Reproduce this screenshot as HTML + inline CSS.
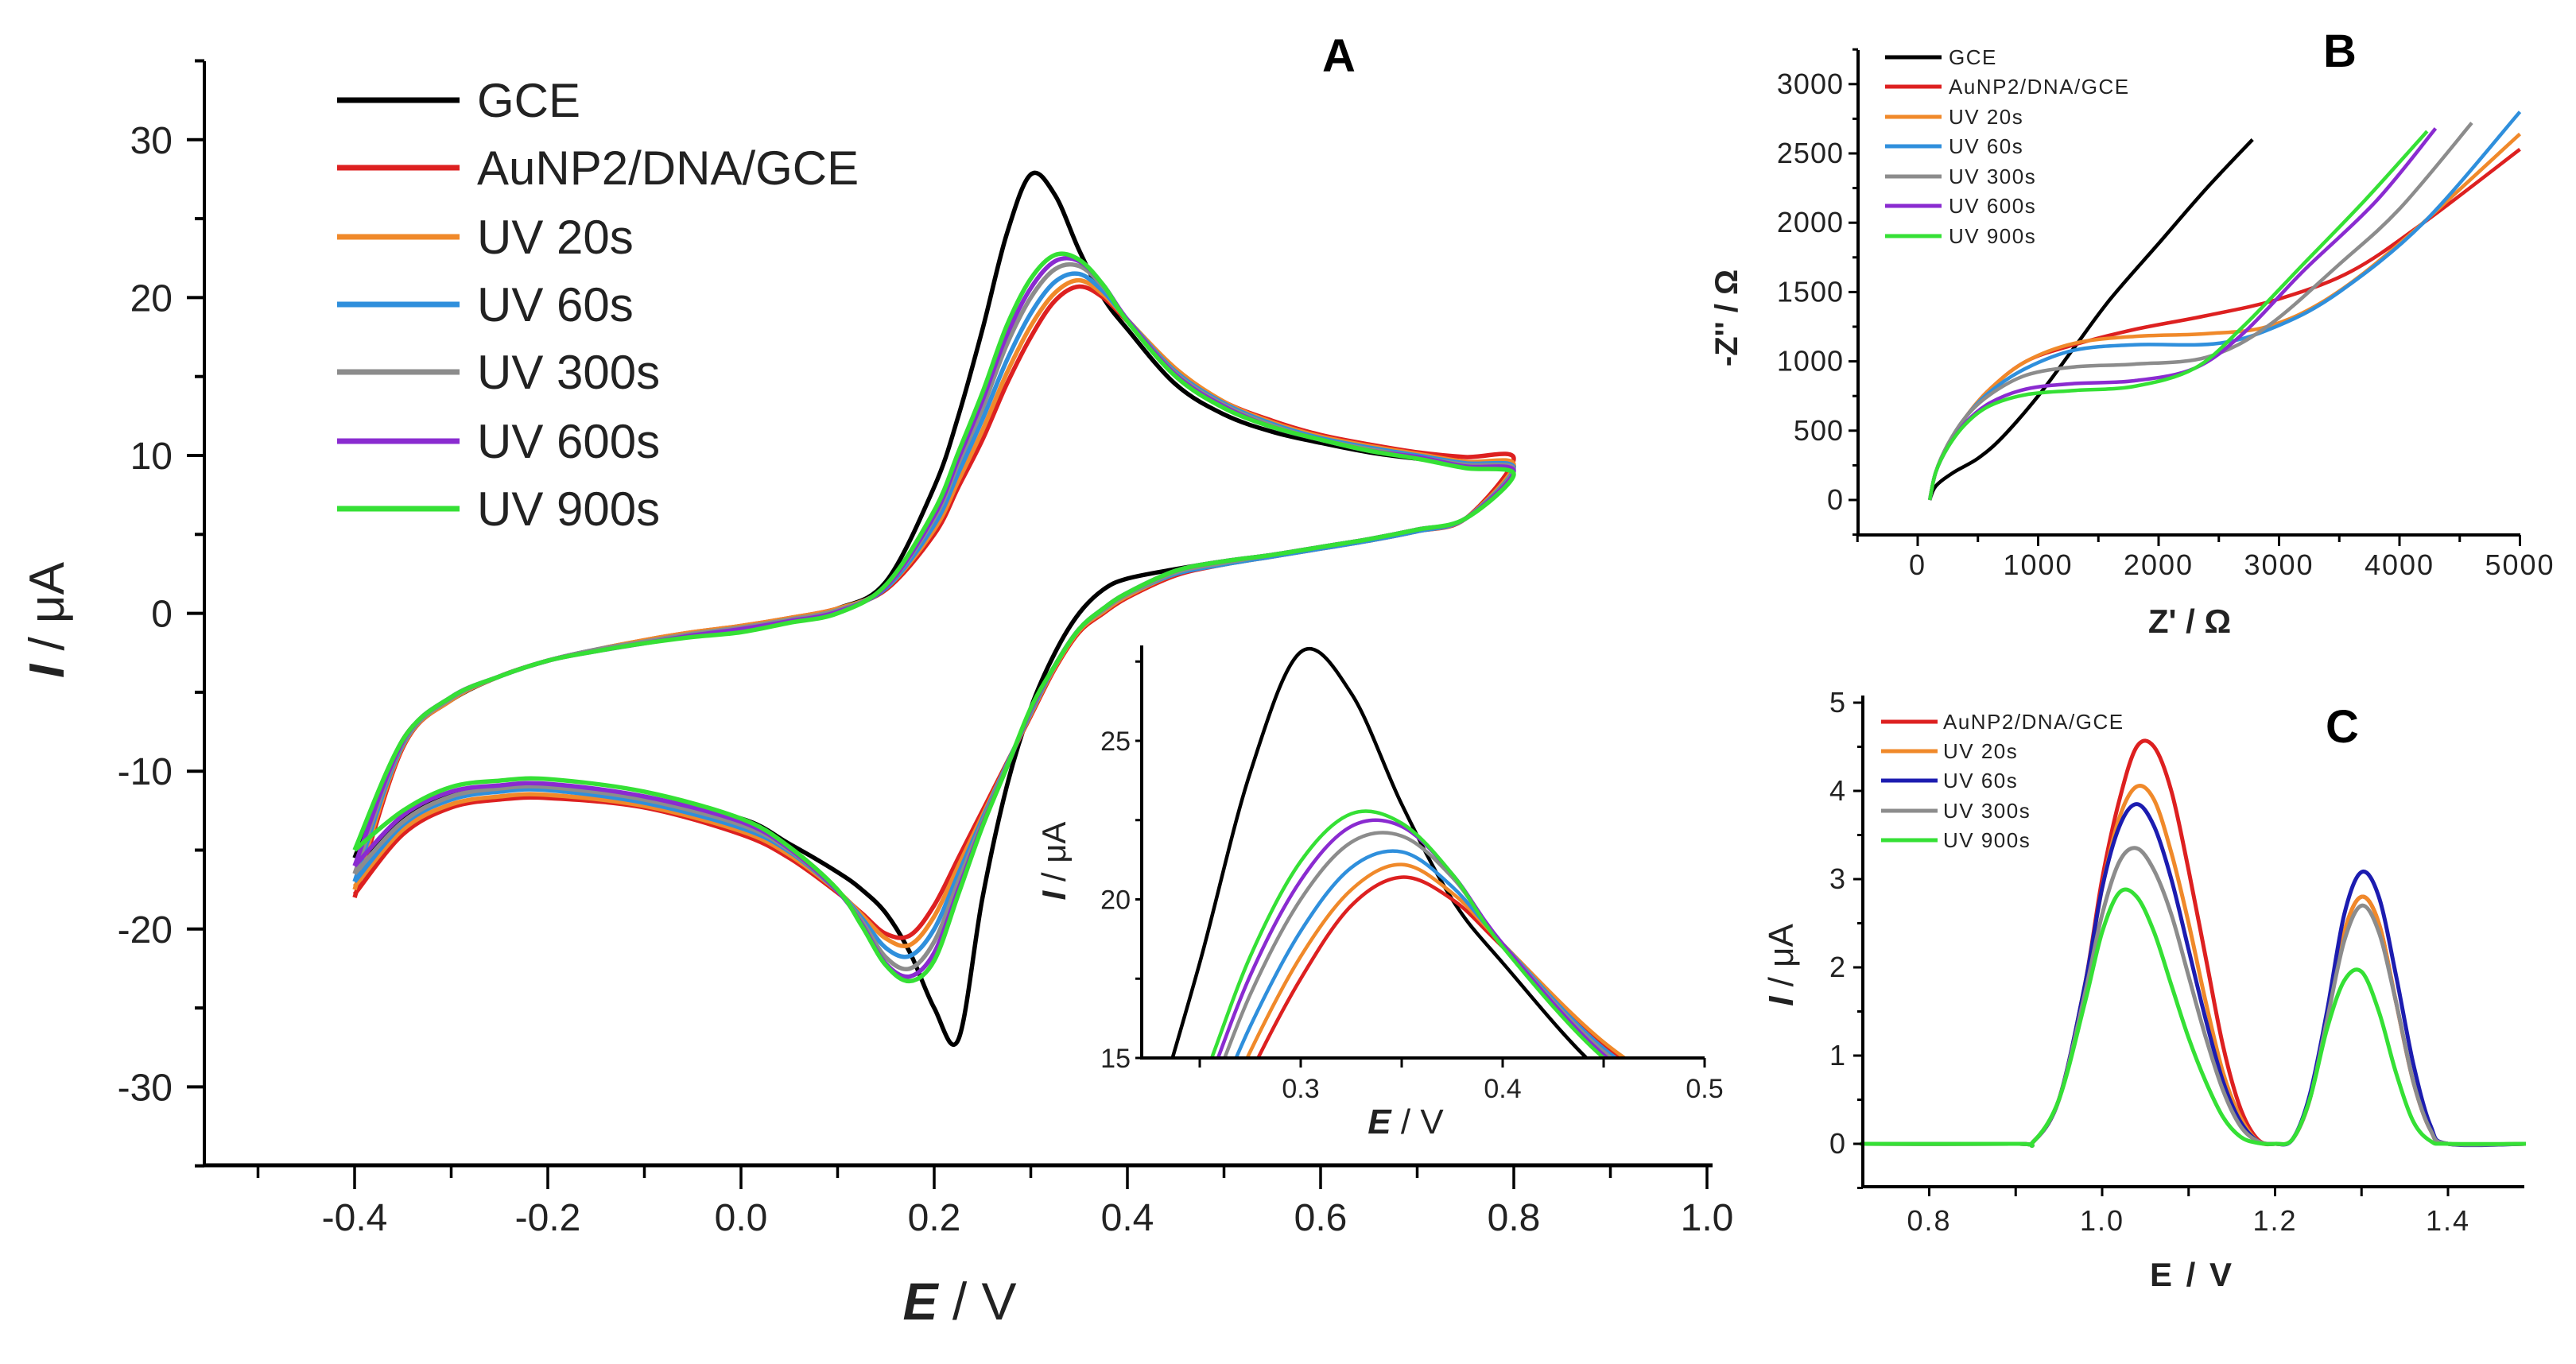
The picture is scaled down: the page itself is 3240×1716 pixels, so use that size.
<!DOCTYPE html>
<html><head><meta charset="utf-8">
<style>
html,body{margin:0;padding:0;background:#fff;overflow:hidden;width:3240px;height:1716px;}
svg{display:block;font-family:"Liberation Sans",Arial,sans-serif;}
</style></head>
<body>
<svg id="fig" width="3240" height="1716" viewBox="0 0 3240 1716" xmlns="http://www.w3.org/2000/svg">
<rect width="3240" height="1716" fill="#fff"/>
<defs>
<clipPath id="clipInset"><rect x="1436" y="812" width="708" height="519"/></clipPath>
</defs>
<g id="panelA"></g>
<g id="panelInset"></g>
<g id="panelB"></g>
<g id="panelC"></g>
</svg>
<script>
// ---------- Panel A data (CV) ----------
const cvSeriesNames = ["GCE","AuNP2/DNA/GCE","UV 20s","UV 60s","UV 300s","UV 600s","UV 900s"];
const cvColors = ["#000000","#dd2020","#f0892a","#2f8fdc","#8c8c8c","#8a2bd0","#35e035"];
const cvFwdE = [-0.4,-0.35,-0.3,-0.25,-0.2,-0.15,-0.1,-0.05,0,0.05,0.1,0.15,0.2,0.225,0.25,0.275,0.3,0.325,0.35,0.375,0.4,0.45,0.5,0.55,0.6,0.65,0.7,0.75,0.8];
const cvRevE = [0.8,0.75,0.7,0.65,0.6,0.55,0.5,0.45,0.4,0.375,0.35,0.325,0.3,0.275,0.25,0.225,0.2,0.175,0.15,0.125,0.1,0.05,0,-0.1,-0.2,-0.25,-0.3,-0.35,-0.4];
const cvFwdGCE    = [-15.5,-8,-5.5,-4,-3,-2.3,-1.8,-1.3,-0.9,-0.4,0.3,2,8,12.5,18,24,27.8,26.5,23,20,18,14.5,12.6,11.5,10.8,10.2,9.8,9.5,9.3];
const cvFwdAuNP   = [-18,-8.5,-5.5,-4,-3,-2.3,-1.7,-1.2,-0.8,-0.3,0.3,1.5,5,8,11,14.5,17.5,19.8,20.7,20,18.5,15.4,13.4,12.2,11.3,10.7,10.2,9.9,9.8];
const cvFwdUV20   = [-17.5,-8.4,-5.5,-4,-3,-2.3,-1.7,-1.2,-0.8,-0.3,0.3,1.6,5.3,8.4,11.6,15.2,18.2,20.3,21.1,20.2,18.6,15.5,13.4,12.1,11.2,10.6,10.1,9.6,9.4];
const cvFwdUV60   = [-17,-8.3,-5.4,-4,-3,-2.3,-1.8,-1.3,-0.9,-0.4,0.2,1.6,5.6,8.9,12.3,16,19,21,21.5,20.4,18.6,15.3,13.3,12,11.1,10.5,10,9.5,9.2];
const cvFwdUV300  = [-16.5,-8.2,-5.4,-4,-3,-2.3,-1.8,-1.3,-0.9,-0.4,0.2,1.7,6,9.5,13,17,20,21.8,22,20.7,18.6,15.2,13.2,11.9,11,10.4,9.9,9.4,9.1];
const cvFwdUV600  = [-16,-8.1,-5.3,-4,-3,-2.4,-1.9,-1.4,-1,-0.5,0.1,1.7,6.2,9.8,13.5,17.6,20.6,22.3,22.3,20.8,18.6,15.1,13.1,11.8,11,10.3,9.9,9.3,9];
const cvFwdUV900  = [-15,-8,-5.3,-4,-3,-2.4,-1.9,-1.5,-1.2,-0.6,0,1.8,6.5,10.2,14,18.2,21.2,22.7,22.4,20.8,18.5,15,13,11.8,11,10.3,9.8,9.2,8.8];
const cvRevGCE    = [8.5,6,5.3,4.7,4.2,3.7,3.3,2.8,2.2,1.5,0,-2.5,-6,-11,-18,-27,-25,-21.5,-19,-17.5,-16.4,-14.6,-13,-11.8,-11,-11,-11.5,-13,-16];
const cvRevAuNP   = [8.3,6,5.2,4.6,4.1,3.6,3.1,2.4,1,0,-1.2,-3.5,-6.5,-9.5,-12.5,-15.5,-18.5,-20.4,-20.3,-19,-17.7,-15.5,-14,-12.3,-11.7,-11.8,-12.3,-14,-17.8];
const cvRevUV20   = [8.3,6,5.2,4.6,4.1,3.6,3.1,2.5,1.1,0.1,-1.1,-3.4,-6.4,-9.6,-12.8,-16,-19.2,-21,-20.6,-19.1,-17.6,-15.3,-13.8,-12.2,-11.5,-11.6,-12.1,-13.7,-17.3];
const cvRevUV60   = [8.3,6,5.2,4.6,4.1,3.6,3.1,2.5,1.2,0.2,-1,-3.3,-6.3,-9.6,-13,-16.5,-20,-21.7,-21.2,-19.3,-17.6,-15.1,-13.6,-12,-11.2,-11.3,-11.8,-13.4,-17];
const cvRevUV300  = [8.2,6,5.3,4.7,4.2,3.7,3.2,2.6,1.2,0.2,-1,-3.3,-6.2,-9.7,-13.2,-17,-20.8,-22.5,-21.8,-19.5,-17.6,-15,-13.4,-11.8,-11,-11.1,-11.6,-13.2,-16.5];
const cvRevUV600  = [8.2,6,5.3,4.7,4.2,3.7,3.3,2.7,1.3,0.3,-1,-3.3,-6.1,-9.8,-13.4,-17.5,-21.5,-23,-22.2,-19.7,-17.6,-14.9,-13.2,-11.6,-10.8,-10.9,-11.3,-12.8,-16];
const cvRevUV900  = [8.2,6,5.3,4.7,4.2,3.7,3.3,2.7,1.3,0.3,-1,-3.3,-6,-9.8,-13.5,-17.8,-22,-23.3,-22.3,-19.8,-17.5,-14.8,-13,-11.3,-10.5,-10.6,-11,-12.5,-15];
const cvXTicks = [-0.4,-0.2,0.0,0.2,0.4,0.6,0.8,1.0];
const cvXTickLabels = ["-0.4","-0.2","0.0","0.2","0.4","0.6","0.8","1.0"];
const cvYTicks = [-30,-20,-10,0,10,20,30];
const insetXTicks = [0.3,0.4,0.5];
const insetYTicks = [15,20,25];

// ---------- Panel B data (Nyquist) ----------
const nyNames = ["GCE","AuNP2/DNA/GCE","UV 20s","UV 60s","UV 300s","UV 600s","UV 900s"];
const nyColors = ["#000000","#dd2020","#f0892a","#2f8fdc","#8c8c8c","#8a2bd0","#35e035"];
const nyReGCE  = [100,150,300,500,700,1000,1300,1600,2000,2400,2780];
const nyImGCE  = [0,100,200,300,450,750,1100,1450,1850,2250,2600];
const nyReAuNP = [100,150,250,400,600,900,1300,1800,2400,3000,3600,4200,5000];
const nyImAuNP = [0,200,400,600,800,1000,1120,1230,1330,1450,1650,2000,2530];
const nyReUV20 = [100,150,250,400,600,900,1300,1800,2400,2900,3400,4000,5000];
const nyImUV20 = [0,200,400,600,800,1000,1130,1180,1200,1250,1450,1850,2640];
const nyReUV60 = [100,150,250,400,600,900,1300,1800,2500,3000,3500,4200,5000];
const nyImUV60 = [0,200,400,600,780,950,1080,1120,1130,1260,1500,2000,2800];
const nyReUV300 = [100,150,250,400,600,900,1300,1800,2400,2900,3500,4000,4600];
const nyImUV300 = [0,200,400,600,760,900,960,980,1030,1250,1700,2100,2720];
const nyReUV600 = [100,150,250,400,600,900,1300,1800,2300,2700,3200,3800,4300];
const nyImUV600 = [0,200,380,560,700,800,840,860,950,1200,1650,2150,2680];
const nyReUV900 = [100,150,250,400,600,900,1300,1800,2300,2700,3200,3700,4230];
const nyImUV900 = [0,200,380,550,680,760,790,820,950,1250,1700,2150,2660];
const nyXTicks = [0,1000,2000,3000,4000,5000];
const nyYTicks = [0,500,1000,1500,2000,2500,3000];

// ---------- Panel C data (DPV) ----------
const dpNames = ["AuNP2/DNA/GCE","UV 20s","UV 60s","UV 300s","UV 900s"];
const dpColors = ["#dd2020","#f0892a","#1c1cb0","#8c8c8c","#35e035"];
const dpE = [0.72,0.9,0.92,0.95,0.98,1.0,1.02,1.04,1.06,1.08,1.1,1.12,1.14,1.16,1.18,1.2,1.22,1.24,1.26,1.28,1.3,1.32,1.34,1.36,1.38,1.4,1.49];
const dpAuNP  = [0,0,0.02,0.5,1.8,3.0,3.9,4.5,4.5,4.0,3.1,2.1,1.1,0.4,0.05,0,0.05,0.5,1.4,2.4,2.8,2.5,1.6,0.7,0.15,0,0];
const dpUV20  = [0,0,0.02,0.5,1.8,2.9,3.7,4.05,3.9,3.3,2.5,1.6,0.8,0.3,0.03,0,0.05,0.5,1.4,2.4,2.8,2.5,1.6,0.7,0.15,0,0];
const dpUV60  = [0,0,0.02,0.5,1.8,2.9,3.6,3.85,3.6,3.0,2.2,1.4,0.7,0.25,0.03,0,0.05,0.55,1.5,2.6,3.08,2.8,1.9,0.9,0.2,0,0];
const dpUV300 = [0,0,0.02,0.5,1.7,2.6,3.2,3.35,3.1,2.6,1.9,1.2,0.6,0.2,0.03,0,0.05,0.5,1.4,2.3,2.7,2.4,1.6,0.7,0.15,0,0];
const dpUV900 = [0,0,0.02,0.5,1.6,2.4,2.85,2.8,2.4,1.8,1.2,0.7,0.3,0.08,0.01,0,0.05,0.5,1.3,1.85,1.95,1.5,0.8,0.25,0.03,0,0];
const dpXTicks = [0.8,1.0,1.2,1.4];
const dpXTickLabels = ["0.8","1.0","1.2","1.4"];
const dpYTicks = [0,1,2,3,4,5];

const NS = "http://www.w3.org/2000/svg";
function mk(parent, tag, attrs, text){
  const e = document.createElementNS(NS, tag);
  for (const k in attrs) e.setAttribute(k, attrs[k]);
  if (text !== undefined) e.textContent = text;
  parent.appendChild(e);
  return e;
}
function smoothPath(pts){
  let d = "M" + pts[0][0].toFixed(1) + "," + pts[0][1].toFixed(1);
  for (let i = 0; i < pts.length - 1; i++){
    const p0 = pts[Math.max(0,i-1)], p1 = pts[i], p2 = pts[i+1], p3 = pts[Math.min(pts.length-1,i+2)];
    const c1x = p1[0] + (p2[0]-p0[0])/6, c1y = p1[1] + (p2[1]-p0[1])/6;
    const c2x = p2[0] - (p3[0]-p1[0])/6, c2y = p2[1] - (p3[1]-p1[1])/6;
    d += " C" + c1x.toFixed(1) + "," + c1y.toFixed(1) + " " + c2x.toFixed(1) + "," + c2y.toFixed(1) + " " + p2[0].toFixed(1) + "," + p2[1].toFixed(1);
  }
  return d;
}

// ========== Panel A ==========
const A = document.getElementById("panelA");
const axL = 257, axR = 2154, axT = 77, axB = 1466;
const sxA = v => 446 + (v + 0.4) * 1215;
const syA = v => 771.6 - v * 19.86;
let el;
el = mk(A, "line", {x1:axL, y1:axT, x2:axL, y2:axB+2, stroke:"#000", "stroke-width":4});


el = mk(A, "line", {x1:axL-2, y1:axB, x2:axR, y2:axB, stroke:"#000", "stroke-width":5});


for (let k = -5; k <= 10; k++){
  const v = k / 10;
  const major = (k % 2 === 0);
  el = mk(A, "line", {x1:sxA(v), y1:axB, x2:sxA(v), y2:axB + (major?30:16), stroke:"#000", "stroke-width":3.5});
  
  
}
cvXTicks.forEach((v,i) => {
  el = mk(A, "text", {x:sxA(v), y:axB+82, "font-size":48, "text-anchor":"middle", fill:"#222"}, cvXTickLabels[i]);
  
  
});
for (let v = -35; v <= 35; v += 5){
  const major = (v % 10 === 0);
  el = mk(A, "line", {x1:axL - (major?22:12), y1:syA(v), x2:axL, y2:syA(v), stroke:"#000", "stroke-width":4});
  
  
}
cvYTicks.forEach(v => {
  el = mk(A, "text", {x:axL-40, y:syA(v)+17, "font-size":48, "text-anchor":"end", fill:"#222"}, String(v));
  
  
});
el = mk(A, "text", {x:0, y:0, "font-size":62, "text-anchor":"middle", fill:"#222", transform:"translate(80,780) rotate(-90)"});
el.innerHTML = '<tspan font-weight="bold" font-style="italic">I</tspan> / μA';


el = mk(A, "text", {x:1207, y:1660, "font-size":66, "text-anchor":"middle", fill:"#222"});
el.innerHTML = '<tspan font-weight="bold" font-style="italic">E</tspan> / V';


el = mk(A, "text", {x:1684, y:90, "font-size":58, "font-weight":"bold", "text-anchor":"middle", fill:"#000"}, "A");



const cvFwd = [cvFwdGCE,cvFwdAuNP,cvFwdUV20,cvFwdUV60,cvFwdUV300,cvFwdUV600,cvFwdUV900];
const cvRev = [cvRevGCE,cvRevAuNP,cvRevUV20,cvRevUV60,cvRevUV300,cvRevUV600,cvRevUV900];
const drawOrder = [0,1,2,3,4,5,6];
drawOrder.forEach(s => {
  const pts = cvFwdE.map((e,i)=>[sxA(e), syA(cvFwd[s][i])]).concat(cvRevE.slice(1).map((e,i)=>[sxA(e), syA(cvRev[s][i+1])]));
  el = mk(A, "path", {d:smoothPath(pts), fill:"none", stroke:cvColors[s], "stroke-width":5.5, "stroke-linejoin":"round"});
  
  
});
const legRowsA = [126,211,298,383,468,555,640];
cvSeriesNames.forEach((n,i) => {
  el = mk(A, "line", {x1:424, y1:legRowsA[i], x2:578, y2:legRowsA[i], stroke:cvColors[i], "stroke-width":7});
  
  
  el = mk(A, "text", {x:600, y:legRowsA[i]+21, "font-size":60, fill:"#222"}, n);
  
  
});

// ========== Inset ==========
const I = document.getElementById("panelInset");
const iL = 1436, iB = 1331, iT = 812, iR = 2144;
const sxI = v => 1636 + (v - 0.3) * 2540;
const syI = v => 1331 - (v - 15) * 39.9;
const ig = mk(I, "g", {"clip-path":"url(#clipInset)"});
drawOrder.forEach(s => {
  const pts = [];
  cvFwdE.forEach((e,i) => { if (e >= 0.22 && e <= 0.52) pts.push([sxI(e), syI(cvFwd[s][i])]); });
  el = mk(ig, "path", {d:smoothPath(pts), fill:"none", stroke:cvColors[s], "stroke-width":4.5});
  
  
});
el = mk(I, "line", {x1:iL, y1:iT, x2:iL, y2:iB+2, stroke:"#000", "stroke-width":4});


el = mk(I, "line", {x1:iL-2, y1:iB, x2:iR, y2:iB, stroke:"#000", "stroke-width":4});


[0.25,0.3,0.35,0.4,0.45,0.5].forEach(v => {
  el = mk(I, "line", {x1:sxI(v), y1:iB, x2:sxI(v), y2:iB+12, stroke:"#000", "stroke-width":3});
  
  
});
insetXTicks.forEach(v => {
  el = mk(I, "text", {x:sxI(v), y:iB+50, "font-size":34, "text-anchor":"middle", fill:"#222"}, v.toFixed(1));
  
  
});
[15,17.5,20,22.5,25,27.5].forEach(v => {
  el = mk(I, "line", {x1:iL-8, y1:syI(v), x2:iL, y2:syI(v), stroke:"#000", "stroke-width":3});
  
  
});
insetYTicks.forEach(v => {
  el = mk(I, "text", {x:iL-14, y:syI(v)+12, "font-size":34, "text-anchor":"end", fill:"#222"}, String(v));
  
  
});
el = mk(I, "text", {x:0, y:0, "font-size":42, "text-anchor":"middle", fill:"#222", transform:"translate(1340,1083) rotate(-90)"});
el.innerHTML = '<tspan font-weight="bold" font-style="italic">I</tspan> / μA';


el = mk(I, "text", {x:1768, y:1426, "font-size":44, "text-anchor":"middle", fill:"#222"});
el.innerHTML = '<tspan font-weight="bold" font-style="italic">E</tspan> / V';



// ========== Panel B ==========
const B = document.getElementById("panelB");
const bL = 2337, bR = 3170, bT = 63, bB = 673;
const sxB = v => 2412 + v * 0.1515;
const syB = v => 629 - v * 0.1744;
const nyRe = [nyReGCE,nyReAuNP,nyReUV20,nyReUV60,nyReUV300,nyReUV600,nyReUV900];
const nyIm = [nyImGCE,nyImAuNP,nyImUV20,nyImUV60,nyImUV300,nyImUV600,nyImUV900];
[0,1,2,3,4,5,6].forEach(s => {
  const pts = nyRe[s].map((r,i)=>[sxB(r), syB(nyIm[s][i])]);
  el = mk(B, "path", {d:smoothPath(pts), fill:"none", stroke:nyColors[s], "stroke-width":4.5});
  
  
});
el = mk(B, "line", {x1:bL, y1:bT, x2:bL, y2:bB+2, stroke:"#000", "stroke-width":4});


el = mk(B, "line", {x1:bL-2, y1:bB, x2:bR, y2:bB, stroke:"#000", "stroke-width":4});


for (let v = -500; v <= 5000; v += 500){
  const major = (v % 1000 === 0);
  el = mk(B, "line", {x1:sxB(v), y1:bB, x2:sxB(v), y2:bB + (major?14:9), stroke:"#000", "stroke-width":3});
  
  
}
nyXTicks.forEach(v => {
  el = mk(B, "text", {x:sxB(v), y:bB+50, "font-size":36, "text-anchor":"middle", fill:"#222", "letter-spacing":"2"}, String(v));
  
  
});
for (let v = -250; v <= 3250; v += 250){
  const major = (v % 500 === 0);
  el = mk(B, "line", {x1:bL - (major?12:7), y1:syB(v), x2:bL, y2:syB(v), stroke:"#000", "stroke-width":3});
  
  
}
nyYTicks.forEach(v => {
  el = mk(B, "text", {x:bL-18, y:syB(v)+12, "font-size":36, "text-anchor":"end", fill:"#222", "letter-spacing":"1"}, String(v));
  
  
});
el = mk(B, "text", {x:0, y:0, "font-size":40, "font-weight":"bold", "text-anchor":"middle", fill:"#222", transform:"translate(2185,400) rotate(-90)"}, "-Z'' / Ω");


el = mk(B, "text", {x:2754, y:796, "font-size":42, "font-weight":"bold", "text-anchor":"middle", fill:"#222"}, "Z' / Ω");


el = mk(B, "text", {x:2943, y:84, "font-size":58, "font-weight":"bold", "text-anchor":"middle", fill:"#000"}, "B");


const legRowsB = [72,109,147,184,222,259,297];
nyNames.forEach((n,i) => {
  el = mk(B, "line", {x1:2371, y1:legRowsB[i], x2:2442, y2:legRowsB[i], stroke:nyColors[i], "stroke-width":5});
  
  
  el = mk(B, "text", {x:2451, y:legRowsB[i]+9, "font-size":26, fill:"#222", "letter-spacing":"1.5"}, n);
  
  
});

// ========== Panel C ==========
const C = document.getElementById("panelC");
const cL = 2343, cR = 3175, cT = 875, cB = 1493;
const sxC = v => 2644 + (v - 1.0) * 1087.5;
const syC = v => 1439 - v * 111;
const dpSeries = [dpAuNP,dpUV20,dpUV60,dpUV300,dpUV900];
[0,1,2,3,4].forEach(s => {
  const pts = dpE.map((e,i)=>[sxC(e), syC(dpSeries[s][i])]);
  el = mk(C, "path", {d:smoothPath(pts), fill:"none", stroke:dpColors[s], "stroke-width":5});
  
  
});
el = mk(C, "line", {x1:cL, y1:cT, x2:cL, y2:cB+2, stroke:"#000", "stroke-width":4});


el = mk(C, "line", {x1:cL-2, y1:cB, x2:cR, y2:cB, stroke:"#000", "stroke-width":4});


for (let k = 8; k <= 14; k++){
  const v = k / 10;
  el = mk(C, "line", {x1:sxC(v), y1:cB, x2:sxC(v), y2:cB+12, stroke:"#000", "stroke-width":3});
  
  
}
dpXTicks.forEach((v,i) => {
  el = mk(C, "text", {x:sxC(v), y:cB+55, "font-size":36, "text-anchor":"middle", fill:"#222", "letter-spacing":"2"}, dpXTickLabels[i]);
  
  
});
for (let k = -1; k <= 10; k++){
  const v = k / 2;
  const major = (k % 2 === 0);
  el = mk(C, "line", {x1:cL - (major?12:7), y1:syC(v), x2:cL, y2:syC(v), stroke:"#000", "stroke-width":3});
  
  
}
dpYTicks.forEach(v => {
  el = mk(C, "text", {x:cL-22, y:syC(v)+12, "font-size":36, "text-anchor":"end", fill:"#222"}, String(v));
  
  
});
el = mk(C, "text", {x:0, y:0, "font-size":44, "text-anchor":"middle", fill:"#222", transform:"translate(2255,1214) rotate(-90)"});
el.innerHTML = '<tspan font-weight="bold" font-style="italic">I</tspan> / μA';


el = mk(C, "text", {x:2757, y:1618, "font-size":42, "font-weight":"bold", "text-anchor":"middle", fill:"#222", "letter-spacing":"3"}, "E / V");


el = mk(C, "text", {x:2946, y:934, "font-size":58, "font-weight":"bold", "text-anchor":"middle", fill:"#000"}, "C");


const legRowsC = [908,945,982,1020,1057];
dpNames.forEach((n,i) => {
  el = mk(C, "line", {x1:2366, y1:legRowsC[i], x2:2437, y2:legRowsC[i], stroke:dpColors[i], "stroke-width":5});
  
  
  el = mk(C, "text", {x:2444, y:legRowsC[i]+9, "font-size":26, fill:"#222", "letter-spacing":"1.5"}, n);
  
  
});
</script>
</body></html>
